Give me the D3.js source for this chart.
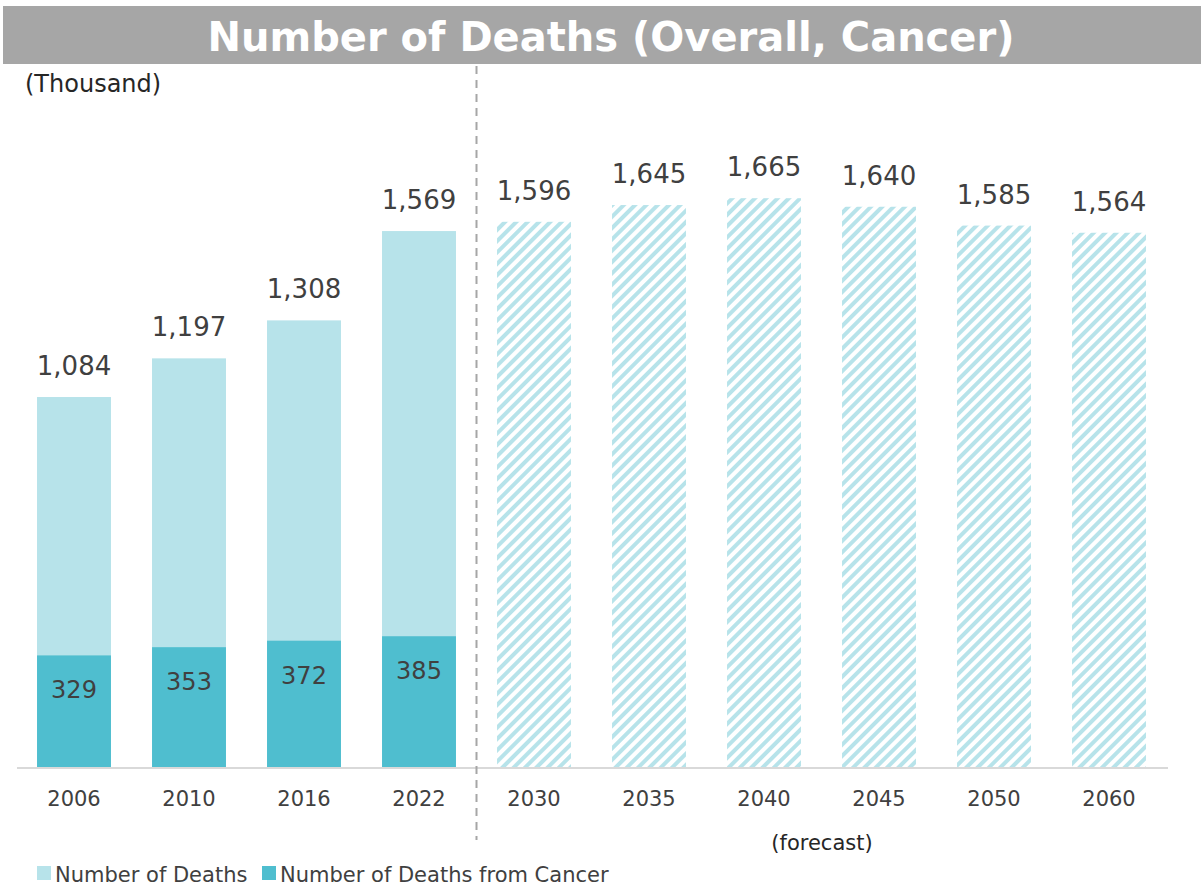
<!DOCTYPE html>
<html><head><meta charset="utf-8">
<script src="https://cdn.jsdelivr.net/npm/d3@7"></script>
<style>body{margin:0;background:#fff}svg{display:block}text{font-family:"DejaVu Sans",Verdana,sans-serif}</style>
</head><body>
<svg id="c" width="1201" height="887"></svg>
<script>
const years = ["2006","2010","2016","2022","2030","2035","2040","2045","2050","2060"];
const totals = [1084,1197,1308,1569,1596,1645,1665,1640,1585,1564];
const cancer = [329,353,372,385,null,null,null,null,null,null];
const forecast = [false,false,false,false,true,true,true,true,true,true];
const title = "Number of Deaths (Overall, Cancer)";
const unitLabel = "(Thousand)";
const forecastLabel = "(forecast)";
const legendLabels = ["Number of Deaths","Number of Deaths from Cancer"];

const colLight = "#b7e3ea", colDark = "#4fbecf", txt = "#404040";
const svg = d3.select("#c");
const fmt = d3.format(",");

const defs = svg.append("defs");
const pat = defs.append("pattern").attr("id","hatch").attr("patternUnits","userSpaceOnUse")
  .attr("width",8).attr("height",8).attr("patternTransform","rotate(45)");
pat.append("rect").attr("width",8).attr("height",8).attr("fill","#fff");
pat.append("rect").attr("x",0).attr("width",4).attr("height",8).attr("fill",colLight);

// title banner
svg.append("rect").attr("x",3).attr("y",6).attr("width",1198).attr("height",58).attr("fill","#a6a6a6");
svg.append("text").attr("x",611).attr("y",51).attr("text-anchor","middle")
  .attr("font-size",40).attr("font-weight","bold").attr("fill","#fff").text(title);

svg.append("text").attr("x",25).attr("y",92).attr("font-size",24).attr("fill","#262626").text(unitLabel);

const x = d3.scaleBand().domain(years).range([16.5,1166.5]).paddingInner(0.357).paddingOuter(0.1785);
const y = d3.scaleLinear().domain([0,1800]).range([768,152]);

const data = years.map((yr,i)=>({yr,total:totals[i],cancer:cancer[i],fc:forecast[i]}));

// total bars
svg.append("g").selectAll("rect").data(data).join("rect")
  .attr("x",d=>x(d.yr)).attr("width",x.bandwidth())
  .attr("y",d=>y(d.total)).attr("height",d=>y(0)-y(d.total))
  .attr("fill",d=>d.fc?"url(#hatch)":colLight);

// cancer bars
const cd = data.filter(d=>d.cancer!=null);
svg.append("g").selectAll("rect").data(cd).join("rect")
  .attr("x",d=>x(d.yr)).attr("width",x.bandwidth())
  .attr("y",d=>y(d.cancer)).attr("height",d=>y(0)-y(d.cancer))
  .attr("fill",colDark);

// axis line
const axis = d3.axisBottom(x).tickSize(0).tickPadding(23);
const ag = svg.append("g").attr("transform","translate(0,768)").call(axis);
ag.select(".domain").attr("d","M17,0H1168").attr("stroke","#d9d9d9").attr("stroke-width",2);
ag.selectAll("text").attr("font-size",21).attr("fill",txt).attr("font-family","DejaVu Sans, Verdana, sans-serif");

// labels
svg.append("g").selectAll("text").data(data).join("text")
  .attr("x",d=>x(d.yr)+x.bandwidth()/2).attr("y",d=>y(d.total)-22)
  .attr("text-anchor","middle").attr("font-size",26).attr("fill",txt).text(d=>fmt(d.total));
svg.append("g").selectAll("text").data(cd).join("text")
  .attr("x",d=>x(d.yr)+x.bandwidth()/2).attr("y",d=>y(d.cancer)+43)
  .attr("text-anchor","middle").attr("font-size",24).attr("fill",txt).text(d=>fmt(d.cancer));

// divider
const divX = (x("2022")+x.bandwidth()+x("2030"))/2;
svg.append("line").attr("x1",divX).attr("x2",divX).attr("y1",66).attr("y2",840)
  .attr("stroke","#a6a6a6").attr("stroke-width",2).attr("stroke-dasharray","8,6");

svg.append("text").attr("x",822).attr("y",850).attr("text-anchor","middle").attr("font-size",21).attr("fill","#262626").text(forecastLabel);

// legend
const lg = svg.append("g");
[[37,colLight,legendLabels[0]],[262,colDark,legendLabels[1]]].forEach(([lx,c,t])=>{
  lg.append("rect").attr("x",lx).attr("y",866).attr("width",14).attr("height",14).attr("fill",c);
  lg.append("text").attr("x",lx+18).attr("y",882).attr("font-size",21).attr("fill",txt).text(t);
});
</script>
</body></html>
